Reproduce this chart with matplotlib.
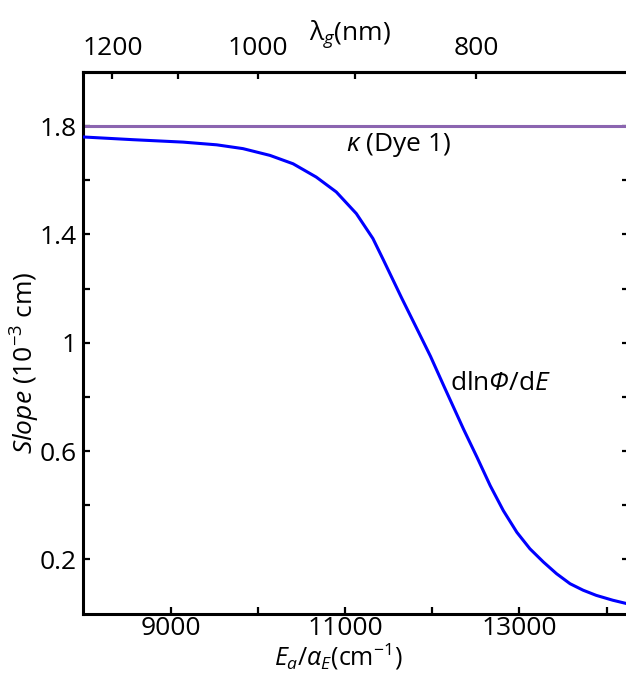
import matplotlib
matplotlib.use("Agg")
import matplotlib.pyplot as plt
from matplotlib.ticker import FixedLocator, FixedFormatter

plt.rcParams["font.family"] = ["Open Sans", "DejaVu Sans"]
plt.rcParams["mathtext.fontset"] = "custom"
plt.rcParams["mathtext.rm"] = "Open Sans"
plt.rcParams["mathtext.it"] = "Open Sans:italic"
plt.rcParams["mathtext.cal"] = "Open Sans:italic"
plt.rcParams["mathtext.bf"] = "Open Sans:bold"

# photon energy (cm^-1) and slope dlnPhi/dE (10^-3 cm)
energy = [8000, 8570, 9145, 9530, 9830, 10140, 10405, 10670, 10900, 11130,
          11320, 11440, 11650, 11850, 11980, 12135, 12360, 12515, 12665,
          12815, 12970, 13120, 13275, 13425, 13580, 13730, 13880, 14070, 14250]
slope = [1.760, 1.750, 1.741, 1.731, 1.717, 1.692, 1.661, 1.612, 1.557, 1.477,
         1.385, 1.306, 1.165, 1.035, 0.950, 0.839, 0.680, 0.576, 0.472,
         0.380, 0.300, 0.239, 0.190, 0.147, 0.110, 0.086, 0.067, 0.049, 0.035]
kappa_dye1 = 1.8

x_major = [9000, 11000, 13000]
x_minor = [10000, 12000, 14000]
x_labels = ["9000", "11000", "13000"]
y_major = [0.2, 0.6, 1.0, 1.4, 1.8]
y_minor = [0.4, 0.8, 1.2, 1.6]
y_labels = ["0.2", "0.6", "1", "1.4", "1.8"]
wl_major = [1200, 1000, 800]
wl_minor = [1100, 900]
wl_labels = ["1200", "1000", "800"]

W, H = 626, 686
fig = plt.figure(figsize=(W / 100, H / 100), dpi=100)
left, right, bottom, top = 83.3, 628.5, 613.5, 72.0
ax = fig.add_axes([left / W, (H - bottom) / H, (right - left) / W, (bottom - top) / H])

ax.axhline(kappa_dye1, color="#8b65b0", lw=2.2, zorder=2)
ax.plot(energy, slope, color="#0000ff", lw=2.2, zorder=3,
        solid_joinstyle="round", solid_capstyle="round")

ax.set_xlim(8000, 14250)
ax.set_ylim(0, 2.0)

fs = 19
ax.xaxis.set_major_locator(FixedLocator(x_major))
ax.xaxis.set_major_formatter(FixedFormatter(x_labels))
ax.xaxis.set_minor_locator(FixedLocator(x_minor))
ax.yaxis.set_major_locator(FixedLocator(y_major))
ax.yaxis.set_major_formatter(FixedFormatter(y_labels))
ax.yaxis.set_minor_locator(FixedLocator(y_minor))

ax.tick_params(axis="both", which="both", direction="in", length=5, width=1.6,
               labelsize=fs, colors="black")
ax.tick_params(axis="y", which="both", right=True, labelright=False)
ax.tick_params(axis="x", which="both", top=False, pad=2)
ax.tick_params(axis="y", which="both", pad=5)
for s in ax.spines.values():
    s.set_linewidth(2.2)
    s.set_color("black")

# wavelength axis along the top
sec = ax.secondary_xaxis("top", functions=(lambda e: 1e7 / e, lambda w: 1e7 / w))
sec.xaxis.set_major_locator(FixedLocator(wl_major))
sec.xaxis.set_major_formatter(FixedFormatter(wl_labels))
sec.xaxis.set_minor_locator(FixedLocator(wl_minor))
sec.tick_params(axis="x", which="both", direction="in", length=5, width=1.6,
                labelsize=fs, pad=8)
sec.spines["top"].set_linewidth(2.2)

ax.text(11010, 1.73, r"$\kappa$ (Dye 1)", fontsize=fs, va="center", ha="left")
ax.text(12200, 0.85, r"dln$\mathcal{\Phi}$/d$E$", fontsize=fs, va="center", ha="left")

# axis titles
fig.text(338 / W, 1 - 666 / H, r"$E_a/\alpha_E$(cm$^{-1}$)", fontsize=18,
         ha="center", va="baseline")
ax.set_ylabel(r"$Slope$ (10$^{-3}$ cm)", fontsize=fs)
ax.yaxis.set_label_coords(-0.107, 0.464)
ax.yaxis.label.set_va("center")
fig.text(350 / W, 1 - 40 / H, r"$\mathrm{\lambda}_g$(nm)", fontsize=fs,
         ha="center", va="baseline")

fig.savefig("out.png", dpi=100)
